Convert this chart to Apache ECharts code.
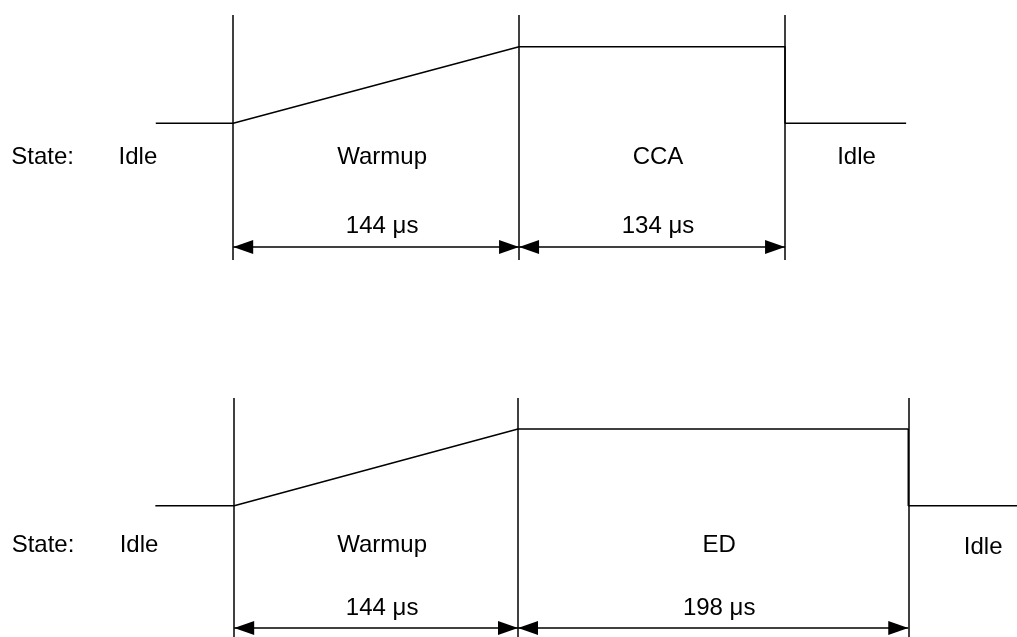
<!DOCTYPE html>
<html><head><meta charset="utf-8">
<script src="https://cdn.jsdelivr.net/npm/echarts@6/dist/echarts.min.js"></script>
<style>html,body{margin:0;padding:0;background:#fff}#c{width:1017px;height:637px}</style>
</head><body><div id="c"></div>
<script>
// ---- Top diagram: Idle -> Warmup -> CCA -> Idle ----
const topStates = ['Warmup', 'CCA'];
const topDurations = [144, 134];               // µs
const topDurationLabels = ['144 μs', '134 μs'];
const topWaveTime = [-39, 0, 144, 278, 278, 339];   // µs
const topWaveLevel = [0, 0, 1, 1, 0, 0];

// ---- Bottom diagram: Idle -> Warmup -> ED -> Idle ----
const botStates = ['Warmup', 'ED'];
const botDurations = [144, 198];               // µs
const botDurationLabels = ['144 μs', '198 μs'];
const botWaveTime = [-40, 0, 144, 342, 342, 400];
const botWaveLevel = [0, 0, 1, 1, 0, 0];

const idleLabel = 'Idle';
const stateCaption = 'State:';

const FONT = "'Liberation Sans', Arial, Helvetica, sans-serif";
const BLACK = '#000000';
const ARROW_HEAD = {symbol: 'triangle', symbolSize: [14, 20], symbolOffset: [0, 10]};

function build(i, states, durations, durLabels, waveT, waveL, cfg) {
  const bounds = [0];
  durations.forEach(d => bounds.push(bounds[bounds.length - 1] + d));
  const end = bounds[bounds.length - 1];
  const segLabel = {offset: [6, 0]};
  const texts = [
    {name: stateCaption, value: [cfg.captionX, cfg.stateY]},
    {name: idleLabel, value: [cfg.idleLeftX, cfg.stateY]},
    ...states.map((s, k) => ({name: s, value: [(bounds[k] + bounds[k + 1]) / 2, cfg.stateY], label: segLabel})),
    {name: idleLabel, value: [end + cfg.idleRightGap, cfg.idleRightY]},
    ...durLabels.map((s, k) => ({name: s, value: [(bounds[k] + bounds[k + 1]) / 2, cfg.durY], label: segLabel}))
  ];
  const arrows = durations.map((d, k) => [
    Object.assign({coord: [bounds[k], cfg.arrowY]}, ARROW_HEAD),
    Object.assign({coord: [bounds[k + 1], cfg.arrowY]}, ARROW_HEAD)
  ]);
  return [
    {
      type: 'line', xAxisIndex: i, yAxisIndex: i, silent: true,
      data: waveT.map((t, k) => [t, waveL[k]]),
      symbol: 'none',
      lineStyle: {color: BLACK, width: 1.5},
      markLine: {
        silent: true, symbol: 'none', label: {show: false},
        lineStyle: {color: BLACK, width: 1.5, type: 'solid'},
        data: bounds.map(b => ({xAxis: b}))
      }
    },
    {
      type: 'scatter', xAxisIndex: i, yAxisIndex: i, silent: true,
      symbolSize: 0,
      itemStyle: {color: BLACK, opacity: 1},
      data: texts,
      label: {show: true, position: 'inside', formatter: '{b}', color: BLACK, opacity: 1,
              textBorderWidth: 0, fontSize: 24, fontFamily: FONT},
      markLine: {
        silent: true,
        symbol: ['triangle', 'triangle'],
        symbolSize: [14, 20],
        label: {show: false},
        lineStyle: {color: BLACK, width: 1.5, type: 'solid', opacity: 1},
        itemStyle: {color: BLACK, opacity: 1},
        data: arrows
      }
    }
  ];
}

const option = {
  animation: false,
  backgroundColor: '#fff',
  grid: [
    {left: 0, right: 0, top: 15, height: 245},
    {left: 0, right: 0, top: 398, height: 239}
  ],
  xAxis: [
    {type: 'value', gridIndex: 0, min: -117.48, max: 394.86, show: false},
    {type: 'value', gridIndex: 1, min: -118.82, max: 397.16, show: false}
  ],
  yAxis: [
    {type: 'value', gridIndex: 0, min: -1.785, max: 1.414, show: false},
    {type: 'value', gridIndex: 1, min: -1.712, max: 1.404, show: false}
  ],
  series: [
    ...build(0, topStates, topDurations, topDurationLabels, topWaveTime, topWaveLevel,
      {stateY: -0.45, idleRightY: -0.45, durY: -1.349, arrowY: -1.615, captionX: -96, idleLeftX: -48, idleRightGap: 36}),
    ...build(1, botStates, botDurations, botDurationLabels, botWaveTime, botWaveLevel,
      {stateY: -0.512, idleRightY: -0.54, durY: -1.333, arrowY: -1.595, captionX: -97, idleLeftX: -48.3, idleRightGap: 38})
  ]
};

const chart = echarts.init(document.getElementById('c'), null, {renderer: 'canvas'});
chart.setOption(option);
</script>
</body></html>
